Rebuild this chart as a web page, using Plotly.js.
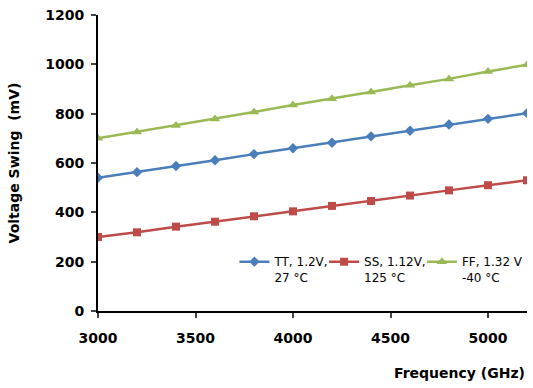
<!DOCTYPE html>
<html><head><meta charset="utf-8">
<script src="https://cdn.plot.ly/plotly-3.0.1.min.js"></script>
<style>html,body{margin:0;padding:0;background:#fff}#c{width:533px;height:388px}</style>
</head><body><div id="c"></div>
<script>
const freq = [3000, 3200, 3400, 3600, 3800, 4000, 4200, 4400, 4600, 4800, 5000, 5200];
const tt = [540, 563, 588, 611, 636, 660, 682, 708, 731, 756, 779, 802];
const ss = [300, 319, 342, 362, 384, 404, 426, 446, 468, 489, 510, 530];
const ff = [700, 726, 752, 778, 807, 835, 860, 888, 915, 941, 971, 998];
const names = ["TT, 1.2V,<br>27 °C", "SS, 1.12V,<br>125 °C", "FF, 1.32 V<br>-40 °C"];
const xTicks = [3000, 3500, 4000, 4500, 5000];
const yTicks = [0, 200, 400, 600, 800, 1000, 1200];

const F = "DejaVu Sans, Liberation Sans, Arial, sans-serif";
const traces = [
  {x: freq, y: tt, name: names[0], mode: "lines+markers", legend: "legend",
   line: {color: "#4A7EBB", width: 2.5}, marker: {symbol: "diamond", size: 8, color: "#4A7EBB"}},
  {x: freq, y: ss, name: names[1], mode: "lines+markers", legend: "legend2",
   line: {color: "#BE4B48", width: 2.5}, marker: {symbol: "square", size: 8, color: "#BE4B48"}},
  {x: freq, y: ff, name: names[2], mode: "lines+markers", legend: "legend3",
   line: {color: "#98B954", width: 2.5}, marker: {symbol: "triangle-up", size: 9, color: "#98B954"}}
];
function leg(x) {
  return {orientation: "v", x: x, y: 0.215, xanchor: "left", yanchor: "top",
          valign: "top", bgcolor: "rgba(0,0,0,0)", borderwidth: 0,
          font: {family: F, size: 12, color: "#000"}, itemwidth: 30};
}
const layout = {
  width: 533, height: 388,
  margin: {l: 98, r: 6, t: 15, b: 77, autoexpand: false},
  paper_bgcolor: "#fff", plot_bgcolor: "#fff",
  font: {family: F, size: 13, color: "#000"},
  showlegend: true,
  legend: leg(0.318), legend2: leg(0.527), legend3: leg(0.755),
  xaxis: {range: [3000, 5200], tickvals: xTicks, ticks: "outside", ticklen: 5, tickwidth: 2,
          showline: true, linecolor: "#000", linewidth: 2, showgrid: false, zeroline: false,
          tickfont: {family: F, size: 14, weight: "bold"}, ticklabelstandoff: 8},
  yaxis: {range: [0, 1200], tickvals: yTicks, ticks: "outside", ticklen: 5, tickwidth: 2,
          showline: true, linecolor: "#000", linewidth: 2, showgrid: false, zeroline: false,
          tickfont: {family: F, size: 14, weight: "bold"}, ticklabelstandoff: 4,
          title: {text: "Voltage Swing  (mV)", font: {family: F, size: 14, weight: "bold"}, standoff: 22}},
  annotations: [{text: "Frequency (GHz)", xref: "paper", yref: "paper", x: 1, y: -0.175,
                 xanchor: "right", yanchor: "top", showarrow: false,
                 font: {family: F, size: 14, weight: "bold"}}]
};
Plotly.newPlot("c", traces, layout, {displayModeBar: false, staticPlot: true});
</script></body></html>
